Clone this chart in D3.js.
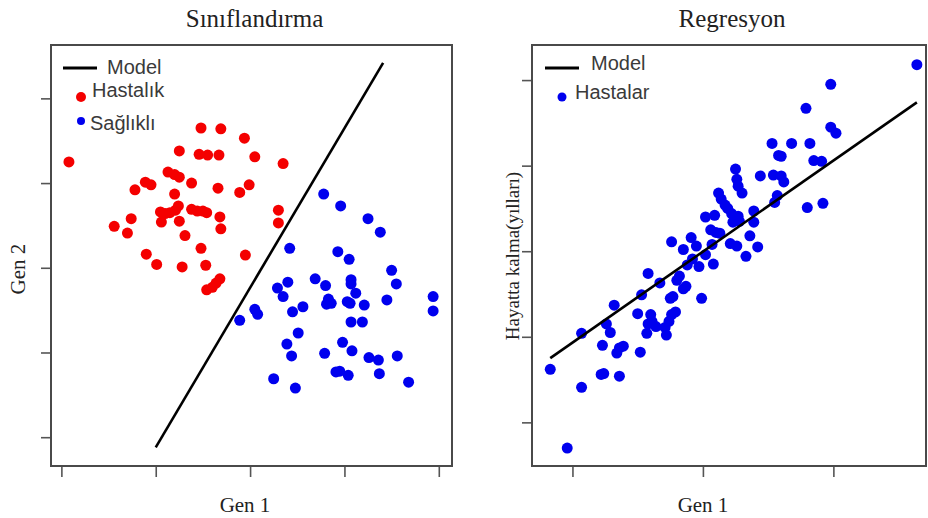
<!DOCTYPE html>
<html>
<head>
<meta charset="utf-8">
<script src="https://cdn.jsdelivr.net/npm/d3@7"></script>
<style>
  body { margin: 0; background: #fff; }
  svg { display: block; }
</style>
</head>
<body>
<svg id="chart" width="928" height="518"></svg>
<script>
// --- Sınıflandırma (left) ---
const hastalik = [
  [0.08, 3.25], [1.48, 3.65], [1.69, 3.64], [1.94, 3.53], [1.25, 3.38], [1.46, 3.34],
  [1.55, 3.33], [1.67, 3.33], [2.05, 3.31], [2.35, 3.23], [1.13, 3.13], [1.20, 3.10],
  [1.25, 3.07], [0.89, 3.01], [0.95, 2.98], [1.38, 3.00], [1.99, 2.98], [0.78, 2.92],
  [1.20, 2.87], [1.66, 2.94], [1.89, 2.89], [2.30, 2.68], [2.30, 2.53], [1.05, 2.66],
  [1.10, 2.64], [1.15, 2.65], [1.21, 2.68], [1.24, 2.73], [1.38, 2.69], [1.44, 2.67],
  [1.50, 2.67], [1.54, 2.65], [1.68, 2.60], [1.69, 2.46], [1.06, 2.54], [1.25, 2.55],
  [0.74, 2.58], [0.56, 2.49], [0.70, 2.41], [1.31, 2.38], [1.48, 2.23], [0.90, 2.16],
  [1.01, 2.04], [1.28, 2.01], [1.53, 2.03], [1.95, 2.15], [1.68, 1.87], [1.64, 1.82],
  [1.60, 1.77], [1.54, 1.74]
];
const saglikli = [
  [2.78, 2.87], [2.96, 2.73], [3.25, 2.58], [3.38, 2.42], [2.42, 2.23], [2.93, 2.19],
  [3.05, 2.10], [3.50, 1.97], [3.55, 1.81], [2.40, 1.83], [2.69, 1.87], [2.80, 1.79],
  [3.07, 1.86], [3.07, 1.81], [3.12, 1.70], [2.29, 1.76], [2.35, 1.66], [2.83, 1.63],
  [2.86, 1.58], [2.81, 1.57], [3.03, 1.60], [3.06, 1.58], [3.21, 1.56], [3.45, 1.62],
  [3.94, 1.66], [3.94, 1.49], [2.05, 1.51], [2.08, 1.45], [1.89, 1.38], [2.45, 1.48],
  [2.56, 1.54], [3.07, 1.36], [3.19, 1.36], [2.51, 1.23], [2.39, 1.10], [2.44, 0.96],
  [2.98, 1.12], [3.08, 1.02], [2.79, 0.99], [3.26, 0.94], [3.36, 0.91], [3.56, 0.96],
  [2.91, 0.77], [2.95, 0.78], [3.04, 0.73], [3.37, 0.75], [2.25, 0.69], [2.48, 0.58],
  [3.68, 0.65]
];
const classModel = [[1.00, -0.12], [3.41, 4.42]];
const classTicksX = [0, 1, 2, 3, 4];
const classTicksY = [0, 1, 2, 3, 4];

// --- Regresyon (right) ---
const hastalar = [
  [2.64, 4.18], [1.98, 3.95], [1.79, 3.67], [1.98, 3.45], [2.02, 3.38], [1.53, 3.26],
  [1.68, 3.26], [1.82, 3.26], [1.58, 3.12], [1.60, 3.11], [1.85, 3.06], [1.91, 3.05],
  [1.25, 2.96], [1.44, 2.88], [1.54, 2.89], [1.60, 2.88], [1.62, 2.81], [1.26, 2.84],
  [1.27, 2.76], [1.30, 2.68], [1.12, 2.68], [1.14, 2.61], [1.17, 2.54], [1.57, 2.65],
  [1.55, 2.57], [1.80, 2.51], [1.92, 2.56], [1.39, 2.47], [1.19, 2.50], [1.22, 2.44],
  [1.27, 2.41], [1.28, 2.35], [1.23, 2.34], [1.02, 2.40], [1.09, 2.42], [1.39, 2.34],
  [1.06, 2.25], [1.10, 2.22], [1.13, 2.21], [1.21, 2.09], [1.26, 2.06], [1.36, 2.18],
  [1.42, 2.05], [1.33, 1.94], [0.76, 2.11], [0.91, 2.16], [0.95, 2.06], [0.85, 2.02],
  [1.07, 2.08], [1.02, 1.96], [1.08, 1.85], [0.92, 1.91], [0.97, 1.82], [0.88, 1.84],
  [0.82, 1.71], [0.80, 1.66], [0.58, 1.74], [0.67, 1.63], [0.85, 1.56], [0.87, 1.59],
  [0.99, 1.45], [0.75, 1.45], [0.77, 1.47], [0.53, 1.49], [0.32, 1.37], [0.50, 1.27],
  [0.60, 1.26], [0.61, 1.18], [0.76, 1.26], [0.79, 1.29], [0.74, 1.18], [0.58, 1.15],
  [0.64, 1.12], [0.71, 1.11], [0.26, 1.15], [0.29, 1.05], [0.07, 1.04], [0.57, 1.04],
  [0.72, 1.02], [0.23, 0.90], [0.39, 0.89], [0.36, 0.87], [0.34, 0.81], [0.52, 0.82],
  [-0.17, 0.62], [0.22, 0.56], [0.24, 0.57], [0.36, 0.54], [0.07, 0.41], [-0.04, -0.30]
];
const regModel = [[-0.17, 0.75], [2.64, 3.74]];
const regTicksX = [0, 1, 2];
const regTicksY = [0, 1, 2, 3, 4];

const RED = '#f40000';
const BLUE = '#0000ee';

const svg = d3.select('#chart');

function drawPanel(opts) {
  const x = d3.scaleLinear().domain(opts.xDomain).range([opts.left, opts.right]);
  const y = d3.scaleLinear().domain(opts.yDomain).range([opts.bottom, opts.top]);
  const g = svg.append('g');

  // ticks outside the box, no labels
  g.append('g')
    .attr('transform', `translate(0,${opts.bottom})`)
    .call(d3.axisBottom(x).tickValues(opts.xTicks).tickFormat('').tickSize(11).tickSizeOuter(0))
    .call(a => a.select('.domain').remove())
    .call(a => a.selectAll('line').attr('stroke', '#555').attr('stroke-width', 1.6));
  g.append('g')
    .attr('transform', `translate(${opts.left},0)`)
    .call(d3.axisLeft(y).tickValues(opts.yTicks).tickFormat('').tickSize(10).tickSizeOuter(0))
    .call(a => a.select('.domain').remove())
    .call(a => a.selectAll('line').attr('stroke', '#555').attr('stroke-width', 1.6));

  g.append('rect')
    .attr('x', opts.left).attr('y', opts.top)
    .attr('width', opts.right - opts.left).attr('height', opts.bottom - opts.top)
    .attr('fill', 'none').attr('stroke', '#4a4a4a').attr('stroke-width', 2);

  // points
  opts.series.forEach((s) => {
    g.append('g').selectAll('circle')
      .data(s.values)
      .join('circle')
      .attr('cx', d => x(d[0]))
      .attr('cy', d => y(d[1]))
      .attr('r', 5.5)
      .attr('fill', s.color);
  });

  // model line
  g.append('path')
    .datum(opts.model)
    .attr('d', d3.line().x(d => x(d[0])).y(d => y(d[1])))
    .attr('stroke', '#000').attr('stroke-width', 2.6).attr('fill', 'none');

  // titles
  svg.append('text')
    .attr('x', (opts.left + opts.right) / 2 + opts.titleDx).attr('y', 27)
    .attr('text-anchor', 'middle')
    .attr('font-family', '"Liberation Serif", "Times New Roman", serif')
    .attr('font-size', 25).attr('fill', '#222')
    .text(opts.title);
  svg.append('text')
    .attr('x', opts.xLabelX).attr('y', 512)
    .attr('text-anchor', 'middle')
    .attr('font-family', '"Liberation Serif", "Times New Roman", serif')
    .attr('font-size', 21).attr('fill', '#222')
    .text(opts.xLabel);
  svg.append('text')
    .attr('transform', `translate(${opts.yLabelX},${opts.yLabelY}) rotate(-90)`)
    .attr('text-anchor', 'middle')
    .attr('dy', '0.35em')
    .attr('font-family', '"Liberation Serif", "Times New Roman", serif')
    .attr('font-size', opts.yLabelSize).attr('fill', '#222')
    .text(opts.yLabel);

  // legend
  const lg = g.append('g').attr('font-family', '"Liberation Sans", Arial, sans-serif')
    .attr('font-size', 20).attr('fill', '#3a3a3a');
  opts.legend.forEach((item) => {
    if (item.kind === 'line') {
      lg.append('line')
        .attr('x1', item.x).attr('x2', item.x + 34)
        .attr('y1', item.y).attr('y2', item.y)
        .attr('stroke', '#000').attr('stroke-width', 3);
    } else {
      lg.append('circle')
        .attr('cx', item.x).attr('cy', item.y).attr('r', item.r)
        .attr('fill', item.color);
    }
    lg.append('text')
      .attr('x', item.tx).attr('y', item.ty)
      .attr('dy', '0.35em')
      .text(item.label);
  });
}

drawPanel({
  left: 51, right: 452, top: 45, bottom: 466,
  xDomain: [-0.11, 4.14], yDomain: [-0.34, 4.63],
  xTicks: classTicksX, yTicks: classTicksY,
  series: [{ values: hastalik, color: RED }, { values: saglikli, color: BLUE }],
  model: classModel,
  title: 'Sınıflandırma', titleDx: 3,
  xLabel: 'Gen 1', xLabelX: 245,
  yLabel: 'Gen 2', yLabelX: 18, yLabelY: 269, yLabelSize: 21,
  legend: [
    { kind: 'line', x: 63, y: 68, label: 'Model', tx: 107, ty: 67 },
    { kind: 'dot', x: 81, y: 97, r: 5, color: RED, label: 'Hastalık', tx: 92, ty: 90 },
    { kind: 'dot', x: 81, y: 121, r: 4, color: BLUE, label: 'Sağlıklı', tx: 90, ty: 123 }
  ]
});

drawPanel({
  left: 532, right: 926, top: 45, bottom: 466,
  xDomain: [-0.31, 2.71], yDomain: [-0.51, 4.41],
  xTicks: regTicksX, yTicks: regTicksY,
  series: [{ values: hastalar, color: BLUE }],
  model: regModel,
  title: 'Regresyon', titleDx: 3,
  xLabel: 'Gen 1', xLabelX: 703,
  yLabel: 'Hayatta kalma(yılları)', yLabelX: 512, yLabelY: 256, yLabelSize: 19,
  legend: [
    { kind: 'line', x: 545, y: 68, label: 'Model', tx: 591, ty: 63 },
    { kind: 'dot', x: 562, y: 97, r: 4.5, color: BLUE, label: 'Hastalar', tx: 575, ty: 92 }
  ]
});
</script>
</body>
</html>
